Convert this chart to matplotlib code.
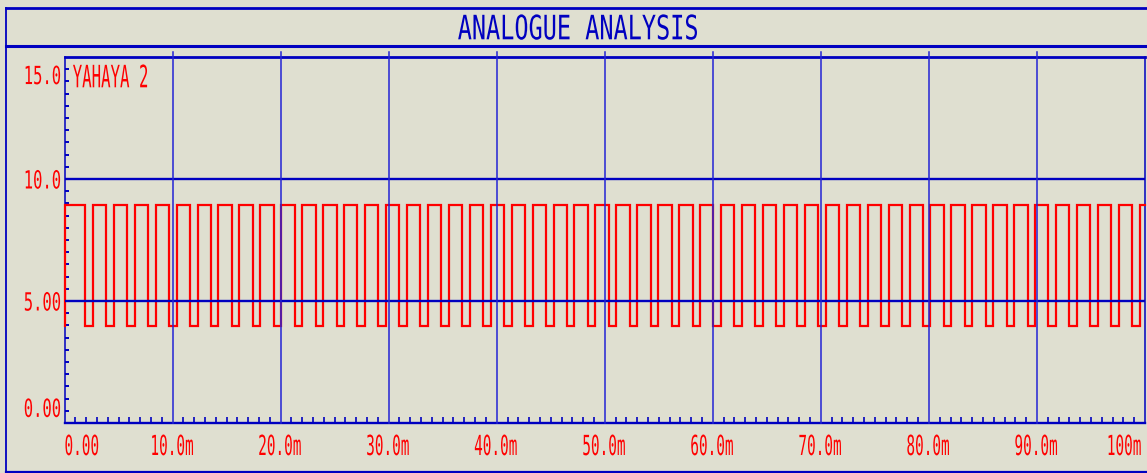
import numpy as np
import matplotlib
matplotlib.use('Agg')
import matplotlib.pyplot as plt
from matplotlib.patheffects import AbstractPathEffect
from matplotlib.transforms import Affine2D, Bbox, offset_copy
from matplotlib.lines import Line2D
from matplotlib.text import Text

# ---------------- data ----------------
title = 'ANALOGUE ANALYSIS'
trace_name = 'YAHAYA 2'
x_tick_values_ms = [0, 10, 20, 30, 40, 50, 60, 70, 80, 90, 100]
x_tick_labels = ['0.00', '10.0m', '20.0m', '30.0m', '40.0m', '50.0m',
                 '60.0m', '70.0m', '80.0m', '90.0m', '100m']
y_tick_values = [0, 5, 10, 15]
y_tick_labels = ['0.00', '5.00', '10.0', '15.0']
# square-wave timing (555-style astable output)
low_level_v = 3.97
high_level_v = 8.93
first_high_ms = 1.92
high_time_ms = 1.235
low_time_ms = 0.703
sim_end_ms = 100.0

# ---------------- style ----------------
W, H = 1147, 473
BG = '#DFDFD0'
BLUE = '#0000C0'
GRID_BLUE = '#2424D4'
RED = '#FF0000'
FONT = 'DejaVu Sans Mono'


class Squeeze(AbstractPathEffect):
    """Horizontally condense text glyphs (narrow stroke-font look)."""

    def __init__(self, sx, anchor='left'):
        super().__init__()
        self.sx = sx
        self.anchor = anchor

    def draw_path(self, renderer, gc, tpath, affine, rgbFace=None):
        ext = tpath.get_extents()
        if self.anchor == 'right':
            a = ext.x1
        elif self.anchor == 'center':
            a = 0.5 * (ext.x0 + ext.x1)
        else:
            a = 0.0
        t = Affine2D().translate(-a, 0).scale(self.sx, 1).translate(a, 0)
        renderer.draw_path(gc, tpath, t + affine, rgbFace)


class SqText(Text):
    """Text drawn horizontally condensed; reported extent matches drawing."""

    def __init__(self, *args, sx=1.0, **kw):
        super().__init__(*args, **kw)
        self._sx = sx
        anchor = self.get_horizontalalignment()
        self._anchor = anchor
        self.set_path_effects([Squeeze(sx, anchor)])

    def get_window_extent(self, renderer=None, dpi=None):
        bb = super().get_window_extent(renderer, dpi)
        if self._anchor == 'right':
            a = bb.x1
        elif self._anchor == 'center':
            a = 0.5 * (bb.x0 + bb.x1)
        else:
            a = bb.x0
        x0 = a + (bb.x0 - a) * self._sx
        x1 = a + (bb.x1 - a) * self._sx
        return Bbox([[x0, bb.y0], [x1, bb.y1]])


def fx(px):
    return px / W


def fy(py):
    return 1 - py / H


fig = plt.figure(figsize=(W / 100, H / 100), dpi=100, facecolor=BG)

# plot area in pixels: left 64.5, right 1145, top 57, bottom 423
ax = fig.add_axes([fx(64.5), fy(423), fx(1145) - fx(64.5), fy(57) - fy(423)])
ax.set_facecolor(BG)
ax.set_xlim(x_tick_values_ms[0], x_tick_values_ms[-1])
ax.set_ylim(y_tick_values[0], y_tick_values[-1])

# ---- build trace from timing ----
times = [0.0, 0.0]
levels = [low_level_v, high_level_v]
t = first_high_ms
while t < sim_end_ms:
    times.append(t)
    levels.append(low_level_v)
    t += low_time_ms
    if t >= sim_end_ms:
        break
    times.append(t)
    levels.append(high_level_v)
    t += high_time_ms
times.append(sim_end_ms)
levels.append(levels[-1])

ax.plot(times, levels, drawstyle='steps-post', color=RED, lw=1.6,
        zorder=2.6, clip_on=False, solid_joinstyle='miter')

# ---- grid ----
for yv in y_tick_values[1:-1]:
    ax.axhline(yv, color=BLUE, lw=1.7, zorder=3)
for xv in x_tick_values_ms[1:-1]:
    ax.axvline(xv, ymin=0, ymax=1 + 5 / 366, color=GRID_BLUE, lw=1.1,
               zorder=3, clip_on=False)

# ---- spines & ticks ----
for side, lw in [('top', 2.0), ('bottom', 1.7), ('left', 1.1), ('right', 1.1)]:
    ax.spines[side].set_color(BLUE)
    ax.spines[side].set_linewidth(lw)
    ax.spines[side].set_zorder(2.5)

ax.set_xticks([])
ax.set_yticks([])
x_minor = [v for v in np.arange(1, 100, 1.0) if v % 10 != 0]
y_minor = [v for v in np.arange(0.5, 15, 0.5) if v % 5 != 0]
ax.set_xticks(x_minor, minor=True)
ax.set_yticks(y_minor, minor=True)
ax.tick_params(axis='x', which='minor', direction='in', length=4.3,
               width=1.2, color=BLUE, bottom=True, top=False, labelbottom=False)
ax.tick_params(axis='y', which='minor', direction='in', length=3.0,
               width=1.4, color=BLUE, left=True, right=False, labelleft=False)

# ---- y labels (0 and 15 nudged inside, as in the original) ----
y_label_pos = [0.64, 5, 10, 14.28]
ytr = offset_copy(ax.get_yaxis_transform(), fig=fig, x=-3, y=-9.5, units='dots')
for pos, lab in zip(y_label_pos, y_tick_labels):
    ax.add_artist(SqText(0, pos, lab, transform=ytr, ha='right', va='baseline',
                         family=FONT, fontsize=18.0, color=RED, sx=0.62,
                         clip_on=False))

# ---- x labels ----
for i, (xv, lab) in enumerate(zip(x_tick_values_ms, x_tick_labels)):
    if i == 0:
        ha, dx = 'left', 0
    elif i == len(x_tick_values_ms) - 1:
        ha, dx = 'right', -3
    else:
        ha, dx = 'center', -1
    tr = offset_copy(ax.get_xaxis_transform(), fig=fig, x=dx, y=-32, units='dots')
    ax.add_artist(SqText(xv, 0, lab, transform=tr, ha=ha, va='baseline',
                         family=FONT, fontsize=19.9, color=RED, sx=0.52,
                         clip_on=False))

# ---- trace name ----
fig.add_artist(SqText(fx(72.7), fy(87.3), trace_name, transform=fig.transFigure,
                      ha='left', va='baseline', family=FONT, fontsize=22.2,
                      color=RED, sx=0.51))

# ---- title bar & outer frame ----
fig.add_artist(SqText(fx(578.5), fy(39.3), title, transform=fig.transFigure,
                      ha='center', va='baseline', family=FONT, fontsize=24.2,
                      color=BLUE, sx=0.70))

frame_lines = [
    ([5.7, W + 5], [8.3, 8.3], 2.0),
    ([5.7, W + 5], [45.7, 45.7], 2.2),
    ([5.7, W + 5], [471.7, 471.7], 1.6),
    ([5.7, 5.7], [8.3, 471.7], 1.3),
]
for xs, ys, lw in frame_lines:
    fig.add_artist(Line2D([fx(v) for v in xs], [fy(v) for v in ys],
                          transform=fig.transFigure, color=BLUE, lw=lw))

fig.savefig('out.png', dpi=100, facecolor=BG)
